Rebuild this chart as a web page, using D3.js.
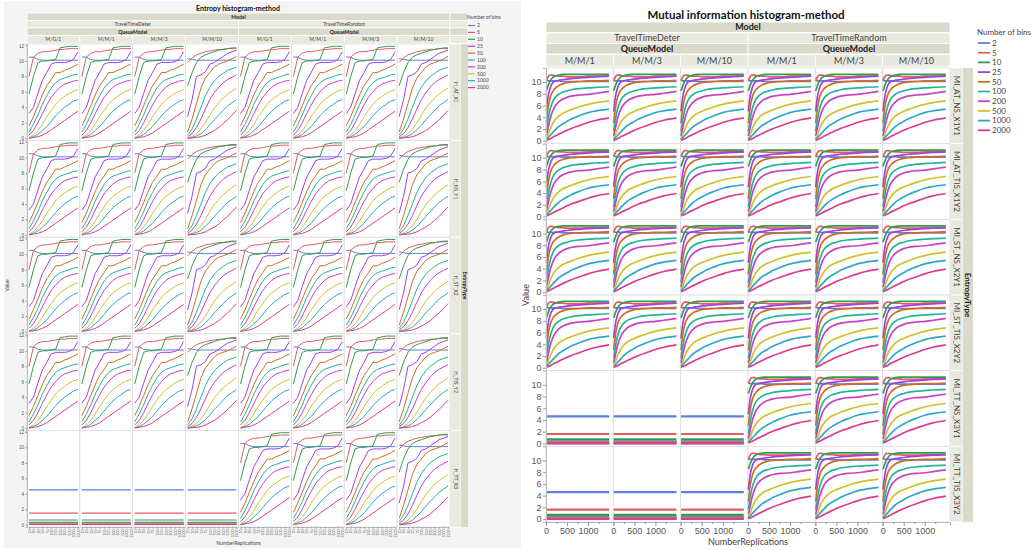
<!DOCTYPE html>
<html>
<head>
<meta charset="utf-8">
<script src="https://cdn.jsdelivr.net/npm/d3@7/dist/d3.min.js"></script>
<style>
body { margin: 0; background: #fff; }
svg { display: block; font-family: Lato, "Noto Sans", "DejaVu Sans", sans-serif; }
</style>
</head>
<body>
<svg id="chart" width="1036" height="550"></svg>
<script>
// ---- data ----
var bins = [2, 5, 10, 25, 50, 100, 200, 500, 1000, 2000];
var binColors = ["#5b80d6", "#e05d5d", "#2f9e4c", "#a33fe6", "#cf6d22", "#23b39c", "#c940c4", "#cfc22c", "#2aa7c9", "#dc3c8c"];
var models = ["TravelTimeDeter", "TravelTimeRandom"];
var entQueues = ["M/G/1", "M/M/1", "M/M/3", "M/M/10"];
var miQueues = ["M/M/1", "M/M/3", "M/M/10"];
var entTypes = ["H_AT_X1", "H_NS_Y1", "H_ST_X2", "H_TIS_Y2", "H_TT_X3"];
var miTypes = ["MI_AT_NS_X1Y1", "MI_AT_TIS_X1Y2", "MI_ST_NS_X2Y1", "MI_ST_TIS_X2Y2", "MI_TT_NS_X3Y1", "MI_TT_TIS_X3Y2"];

var entReplications = [10, 20, 30, 50, 75, 100, 150, 200, 300, 500, 1000, 1500];
var miReplications = [10, 50, 100, 150, 200, 300, 400, 500, 600, 800, 1000, 1200, 1500];

var entYTicks = [0, 2, 4, 6, 8, 10, 12];
var miYTicks = [0, 2, 4, 6, 8, 10];
var miXTicks = [0, 500, 1000];
var miXMinorTicks = [250, 750, 1250];

// entropy, queues that converge early (one row per bin count)
var entEarly = [
  [10.5, 10.5, 10.2, 10.1, 10.1, 10.1, 10.1, 10.1, 10.1, 10.1, 10.1, 10.1],
  [8.0, 10.5, 11.0, 11.2, 11.2, 11.3, 11.4, 11.5, 11.5, 11.6, 11.6, 11.6],
  [5.7, 8.0, 9.8, 10.0, 10.0, 10.1, 10.2, 11.7, 11.8, 11.9, 11.9, 11.9],
  [3.2, 4.0, 5.8, 7.5, 8.5, 9.6, 9.8, 9.8, 9.8, 9.9, 10.2, 11.2],
  [1.6, 2.8, 4.2, 5.6, 6.8, 7.6, 8.5, 8.5, 8.8, 9.0, 9.3, 9.6],
  [0.8, 1.8, 3.0, 4.4, 5.5, 6.5, 7.2, 7.6, 7.8, 8.0, 8.2, 8.3],
  [0.4, 1.0, 2.0, 3.2, 4.3, 5.3, 6.0, 6.6, 7.0, 7.2, 7.4, 7.5],
  [0.1, 0.4, 1.0, 1.8, 2.8, 3.6, 4.4, 5.0, 5.4, 5.8, 6.1, 6.3],
  [0.05, 0.2, 0.5, 1.0, 1.5, 2.2, 2.9, 3.5, 4.0, 4.4, 4.8, 5.0],
  [0.0, 0.1, 0.2, 0.4, 0.7, 1.1, 1.5, 1.9, 2.3, 2.7, 3.1, 3.5]
];
// entropy, M/M/10 (slower rise)
var entLate = [
  [10.3, 10.2, 10.1, 10.1, 10.1, 10.1, 10.1, 10.1, 10.1, 10.1, 10.1, 10.1],
  [9.8, 10.4, 10.8, 11.0, 11.2, 11.3, 11.4, 11.5, 11.5, 11.6, 11.6, 11.6],
  [6.8, 8.5, 9.8, 10.5, 10.8, 11.0, 11.2, 11.4, 11.5, 11.6, 11.7, 11.7],
  [2.8, 5.0, 8.0, 8.2, 8.6, 9.6, 9.8, 10.2, 10.6, 11.0, 11.2, 11.4],
  [0.8, 2.5, 4.5, 6.5, 7.8, 8.5, 9.2, 9.6, 9.8, 10.0, 10.3, 10.6],
  [0.4, 1.2, 2.5, 4.0, 5.5, 6.6, 7.4, 8.0, 8.4, 8.8, 9.0, 9.2],
  [0.2, 0.6, 1.4, 2.5, 3.8, 5.0, 5.9, 6.6, 7.2, 7.6, 7.9, 8.2],
  [0.1, 0.2, 0.6, 1.2, 2.0, 3.0, 3.9, 4.6, 5.2, 5.7, 6.1, 6.5],
  [0.0, 0.1, 0.3, 0.6, 1.1, 1.7, 2.4, 3.0, 3.6, 4.2, 4.6, 5.0],
  [0.0, 0.05, 0.1, 0.2, 0.4, 0.7, 1.0, 1.4, 1.9, 2.4, 3.0, 3.6]
];
// H_TT_X3 with deterministic travel time: constant levels
var entFlat = [4.5, 1.5, 0.6, 0.3, 0.25, 0.2, 0.15, 0.1, 0.05, 0.02];

// mutual information curves
var miCurve = [
  [10.3, 10.2, 10.2, 10.2, 10.2, 10.2, 10.1, 10.1, 10.1, 10.1, 10.1, 10.1, 10.1],
  [10.2, 10.9, 11.2, 11.2, 11.1, 11.0, 11.0, 10.9, 10.9, 10.9, 11.0, 11.0, 11.0],
  [8.5, 9.4, 10.2, 10.7, 11.0, 11.2, 11.3, 11.3, 11.3, 11.3, 11.3, 11.3, 11.3],
  [5.0, 7.5, 9.0, 9.8, 10.1, 10.3, 10.4, 10.5, 10.6, 10.7, 10.8, 10.9, 11.0],
  [3.0, 5.6, 7.4, 8.3, 8.8, 9.4, 9.7, 9.9, 10.0, 10.1, 10.2, 10.2, 10.3],
  [1.6, 3.6, 5.4, 6.5, 7.2, 7.9, 8.3, 8.5, 8.7, 8.9, 9.0, 9.1, 9.2],
  [0.8, 2.2, 3.8, 4.9, 5.7, 6.6, 7.1, 7.4, 7.6, 7.8, 7.9, 8.1, 8.4],
  [0.3, 1.0, 2.0, 2.8, 3.4, 4.2, 4.7, 5.0, 5.3, 5.8, 6.2, 6.5, 6.8],
  [0.15, 0.5, 0.9, 1.3, 1.7, 2.4, 2.9, 3.3, 3.7, 4.3, 4.8, 5.1, 5.4],
  [0.05, 0.2, 0.35, 0.55, 0.75, 1.1, 1.45, 1.8, 2.1, 2.6, 3.1, 3.5, 3.9]
];
var miFlat = [4.6, 1.6, 0.7, 0.3, 0.25, 0.2, 0.15, 0.1, 0.05, 0.02];

var svg = d3.select('#chart');
var darkBand = '#dadacc';
var lightBand = '#e9e9df';

function drawPanel(cfg) {
  var g = svg.append('g');
  var nQ = cfg.queues.length;
  var nCols = models.length * nQ;
  var colW = (cfg.right - cfg.left) / nCols;
  var rowH = (cfg.bottom - cfg.top) / cfg.types.length;

  if (cfg.bg) {
    g.append('rect').attr('x', cfg.bg[0]).attr('y', cfg.bg[1])
      .attr('width', cfg.bg[2]).attr('height', cfg.bg[3]).attr('fill', '#f4f4f4');
  }

  // Title
  g.append('text')
    .attr('x', cfg.titleX).attr('y', cfg.titleY)
    .attr('text-anchor', 'middle').attr('font-weight', 'bold')
    .attr('font-size', cfg.titleSize).attr('fill', '#111')
    .text(cfg.title);

  // Header bands
  function band(x, y, w, h, fill, label, bold) {
    g.append('rect').attr('x', x).attr('y', y).attr('width', w).attr('height', h)
      .attr('fill', fill).attr('stroke', '#fff').attr('stroke-width', 0.8);
    if (label) {
      g.append('text').attr('x', x + w / 2).attr('y', y + h / 2)
        .attr('dy', '0.35em').attr('text-anchor', 'middle')
        .attr('font-size', cfg.headSize).attr('fill', bold ? '#222' : '#444')
        .attr('font-weight', bold ? 'bold' : 'normal')
        .text(label);
    }
  }
  var hb = cfg.bands;
  var fullW = cfg.right - cfg.left;
  band(cfg.left, hb[0][0], fullW, hb[0][1], darkBand, 'Model', true);
  models.forEach(function (m, mi) {
    var x = cfg.left + mi * nQ * colW;
    band(x, hb[1][0], nQ * colW, hb[1][1], lightBand, m, false);
    band(x, hb[2][0], nQ * colW, hb[2][1], darkBand, 'QueueModel', true);
    cfg.queues.forEach(function (q, qi) {
      band(x + qi * colW, hb[3][0], colW, hb[3][1], lightBand, q, false);
    });
  });
  if (cfg.headExtra) {
    hb.forEach(function (b, i) {
      band(cfg.right, b[0], cfg.headExtra, b[1], i % 2 === 0 ? darkBand : lightBand, null, false);
    });
  }

  // Row strips
  cfg.types.forEach(function (t, r) {
    var y = cfg.top + r * rowH;
    g.append('rect').attr('x', cfg.right).attr('y', y)
      .attr('width', cfg.stripW).attr('height', rowH)
      .attr('fill', lightBand).attr('stroke', '#fff').attr('stroke-width', 0.8);
    g.append('text')
      .attr('transform', 'translate(' + (cfg.right + cfg.stripW / 2) + ',' + (y + rowH / 2) + ') rotate(90)')
      .attr('dy', '0.35em').attr('text-anchor', 'middle')
      .attr('font-size', cfg.stripSize).attr('fill', '#444')
      .text(t);
  });
  g.append('rect').attr('x', cfg.right + cfg.stripW).attr('y', cfg.top)
    .attr('width', cfg.strip2W).attr('height', cfg.bottom - cfg.top)
    .attr('fill', darkBand);
  g.append('text')
    .attr('transform', 'translate(' + (cfg.right + cfg.stripW + cfg.strip2W / 2) + ',' + ((cfg.top + cfg.bottom) / 2) + ') rotate(90)')
    .attr('dy', '0.35em').attr('text-anchor', 'middle')
    .attr('font-size', cfg.stripSize).attr('font-weight', 'bold').attr('fill', '#222')
    .text('EntropyType');

  // Scales shared by all cells
  var x = cfg.xScale.copy().range(cfg.xRange(colW));
  var y = d3.scaleLinear().domain(cfg.yDomain).range([rowH, 0]);
  var line = d3.line()
    .x(function (d) { return x(d[0]); })
    .y(function (d) { return y(d[1]); })
    .curve(cfg.curve);

  cfg.types.forEach(function (t, r) {
    models.forEach(function (m, mi) {
      cfg.queues.forEach(function (q, qi) {
        var col = mi * nQ + qi;
        var cell = g.append('g')
          .attr('transform', 'translate(' + (cfg.left + col * colW) + ',' + (cfg.top + r * rowH) + ')');
        cell.append('rect').attr('width', colW).attr('height', rowH)
          .attr('fill', '#fff').attr('stroke', '#dcdcdc').attr('stroke-width', 0.8);

        var prof = cfg.profile(mi, qi, r);
        var series;
        if (prof.flat) {
          var reps = cfg.reps;
          series = prof.flat.map(function (v) {
            return [[reps[0], v], [reps[reps.length - 1], v]];
          });
        } else {
          series = prof.curve.map(function (vals) {
            return vals.map(function (v, j) { return [cfg.reps[j], v]; });
          });
        }
        cell.selectAll('path.series')
          .data(series)
          .enter()
          .append('path')
          .attr('class', 'series')
          .attr('fill', 'none')
          .attr('stroke', function (d, i) { return binColors[i]; })
          .attr('stroke-width', prof.flat ? cfg.flatWidth : cfg.lineWidth)
          .attr('stroke-linejoin', 'round')
          .attr('d', line);

        // Y axis on the first column
        if (col === 0) {
          var ya = cell.append('g').call(d3.axisLeft(y).tickValues(cfg.yTicks).tickSize(cfg.tickLen).tickPadding(1.5));
          ya.select('.domain').attr('stroke', '#bbb');
          ya.selectAll('line').attr('stroke', '#999');
          ya.selectAll('text').attr('font-size', cfg.tickSize).attr('fill', '#555')
            .attr('font-family', 'inherit');
        }
        // X axis on the bottom row
        if (r === cfg.types.length - 1) {
          var xa = cell.append('g').attr('transform', 'translate(0,' + rowH + ')');
          cfg.xAxis(xa, x);
        }
      });
    });
  });

  // Axis titles
  g.append('text')
    .attr('transform', 'translate(' + cfg.valueX + ',' + ((cfg.top + cfg.bottom) / 2) + ') rotate(-90)')
    .attr('text-anchor', 'middle').attr('font-size', cfg.axisTitleSize).attr('fill', '#444')
    .text('Value');
  g.append('text')
    .attr('x', (cfg.left + cfg.right) / 2).attr('y', cfg.nrY)
    .attr('text-anchor', 'middle').attr('font-size', cfg.axisTitleSize).attr('fill', '#444')
    .text('NumberReplications');

  // Legend
  var lg = cfg.legend;
  g.append('text').attr('x', lg.x).attr('y', lg.titleY)
    .attr('font-size', lg.size).attr('fill', '#444').text('Number of bins');
  var items = g.selectAll('g.legend-item')
    .data(bins).enter().append('g')
    .attr('class', 'legend-item')
    .attr('transform', function (d, i) { return 'translate(' + lg.x + ',' + (lg.y0 + i * lg.step) + ')'; });
  items.append('line').attr('x1', 1).attr('x2', 1 + lg.swatch)
    .attr('stroke', function (d, i) { return binColors[i]; })
    .attr('stroke-width', lg.lineW);
  items.append('text').attr('x', lg.swatch + 3).attr('dy', '0.35em')
    .attr('font-size', lg.size).attr('fill', '#444')
    .text(function (d) { return d; });
}

// Left: Entropy histogram-method
drawPanel({
  bg: [4, 1, 517, 547],
  title: 'Entropy histogram-method', titleX: 238, titleY: 10.5, titleSize: 7,
  queues: entQueues, types: entTypes,
  left: 27, right: 450, top: 44, bottom: 527,
  bands: [[13, 7.5], [20.5, 7.5], [28, 7.5], [35.5, 8]],
  headSize: 5, headExtra: 18,
  stripW: 11, strip2W: 7, stripSize: 5,
  xScale: d3.scalePoint().domain(entReplications),
  xRange: function (w) { return [2, w - 2]; },
  reps: entReplications,
  yDomain: [-0.3, 12.2], yTicks: entYTicks,
  tickLen: 1.5, tickSize: 4.6,
  curve: d3.curveLinear, lineWidth: 1, flatWidth: 1.1,
  profile: function (mi, qi, r) {
    if (r === 4 && mi === 0) return { flat: entFlat };
    return { curve: qi === 3 ? entLate : entEarly };
  },
  xAxis: function (sel, x) {
    sel.call(d3.axisBottom(x).tickSize(1.5).tickPadding(1));
    sel.select('.domain').attr('stroke', '#bbb');
    sel.selectAll('line').attr('stroke', '#999');
    sel.selectAll('text')
      .attr('font-size', 3.6).attr('fill', '#555').attr('font-family', 'inherit')
      .attr('transform', 'rotate(-90)').attr('text-anchor', 'end')
      .attr('x', -2.5).attr('y', 0).attr('dy', '0.35em');
  },
  valueX: 9, nrY: 545, axisTitleSize: 5,
  legend: { x: 467, titleY: 19, y0: 25.5, step: 6.9, size: 5, swatch: 7, lineW: 1.2 }
});

// Right: Mutual information histogram-method
drawPanel({
  bg: null,
  title: 'Mutual information histogram-method', titleX: 746, titleY: 19, titleSize: 11.5,
  queues: miQueues, types: miTypes,
  left: 546, right: 950, top: 68, bottom: 522,
  bands: [[22, 10.5], [33, 10.5], [43.5, 10.5], [54.5, 12.5]],
  headSize: 9, headExtra: 0,
  stripW: 13, strip2W: 10, stripSize: 8,
  xScale: d3.scaleLinear().domain([0, 1600]),
  xRange: function (w) { return [0, w]; },
  reps: miReplications,
  yDomain: [-0.5, 12.4], yTicks: miYTicks,
  tickLen: 3, tickSize: 9,
  curve: d3.curveMonotoneX, lineWidth: 1.7, flatWidth: 2.2,
  profile: function (mi, qi, r) {
    if (r >= 4 && mi === 0) return { flat: miFlat };
    return { curve: miCurve };
  },
  xAxis: function (sel, x) {
    sel.call(d3.axisBottom(x).tickValues(miXTicks).tickFormat(d3.format('d')).tickSize(4).tickPadding(2));
    sel.select('.domain').attr('stroke', '#bbb');
    sel.selectAll('line').attr('stroke', '#999');
    sel.selectAll('text').attr('font-size', 9).attr('fill', '#555').attr('font-family', 'inherit');
    var minor = sel.append('g').call(d3.axisBottom(x).tickValues(miXMinorTicks).tickSize(2).tickFormat(''));
    minor.select('.domain').remove();
    minor.selectAll('line').attr('stroke', '#999');
  },
  valueX: 529, nrY: 545, axisTitleSize: 9,
  legend: { x: 977, titleY: 35, y0: 43, step: 9.7, size: 8, swatch: 12, lineW: 1.8 }
});
</script>
</body>
</html>
